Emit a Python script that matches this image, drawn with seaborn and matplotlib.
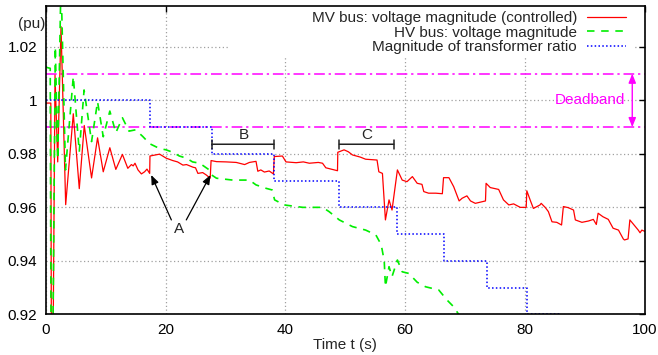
import matplotlib
matplotlib.use("Agg")
import matplotlib.pyplot as plt
import matplotlib.patches as mpatches
import seaborn as sns
import pandas as pd

# MV bus voltage (controlled)
mv_t = [0, 0.85, 0.95, 1.2, 1.55, 2.0, 2.55, 3.33, 4.6, 5.6, 6.43, 7.65, 8.65, 9.6,
        10.7, 11.7, 12.8, 13.7, 14.3, 14.6, 14.9, 15.4, 15.97, 16.5, 16.9, 17.35,
        17.4, 19.0, 20.1, 21.2, 22.0, 22.9, 23.5, 24.6, 25.0, 25.4, 26.2, 26.8,
        27.45, 27.6, 28.5, 30.1, 31.8, 33.2, 34.0, 35.1, 35.4, 35.9, 36.5, 37.3,
        38.0, 38.15, 39.5, 40.1, 41.8, 43.0, 44.0, 45.5, 46.2, 46.75, 48.7, 48.75,
        49.8, 50.5, 51.2, 52.5, 53.4, 55.3, 55.6, 56.2, 56.7, 57.3, 57.8, 58.7,
        59.5, 60.3, 61.2, 62.0, 62.8, 63.1, 63.9, 65.1, 66.2, 66.4, 67.3, 68.1,
        69.0, 69.5, 70.3, 70.9, 71.7, 73.4, 73.5, 74.2, 75.6, 76.4, 77.3, 78.1,
        79.2, 80.2, 80.3, 80.9, 81.4, 82.5, 82.7, 83.4, 83.9, 84.5, 85.3, 86.1,
        86.4, 87.2, 88.1, 88.4, 89.5, 90.6, 91.4, 91.9, 92.2, 93.0, 93.9, 94.7,
        95.6, 96.4, 96.6, 97.2, 97.5, 98.3, 98.9, 99.2, 99.5, 100]
mv_v = [0.999, 0.999, 0.90, 0.90, 1.0095, 0.977, 1.0276, 0.961, 0.995, 0.967, 0.9906,
        0.971, 0.986, 0.9733, 0.9823, 0.9742, 0.9798, 0.9746, 0.976, 0.9755, 0.9765,
        0.974, 0.9725, 0.9733, 0.9743, 0.9727, 0.9792, 0.9799, 0.9784, 0.9775, 0.977,
        0.9758, 0.976, 0.975, 0.9748, 0.9727, 0.973, 0.9721, 0.9709, 0.9775, 0.9771,
        0.977, 0.9768, 0.976, 0.9768, 0.9772, 0.9735, 0.974, 0.9732, 0.9736, 0.9725,
        0.979, 0.9792, 0.977, 0.9767, 0.977, 0.9765, 0.9768, 0.9765, 0.9748, 0.9737,
        0.9806, 0.9815, 0.9808, 0.9796, 0.9788, 0.978, 0.9777, 0.9733, 0.9727, 0.9553,
        0.9628, 0.959, 0.974, 0.9702, 0.9696, 0.9715, 0.969, 0.9686, 0.9659, 0.9653,
        0.9653, 0.9651, 0.9711, 0.9711, 0.9677, 0.9624, 0.9634, 0.9643, 0.9624, 0.9615,
        0.9624, 0.969, 0.9674, 0.9667, 0.9628, 0.9609, 0.9613, 0.960, 0.960, 0.9662,
        0.9625, 0.9596, 0.9609, 0.9615, 0.9599, 0.9584, 0.9546, 0.9544, 0.9534, 0.9603,
        0.9599, 0.959, 0.9553, 0.9544, 0.9549, 0.9555, 0.9536, 0.9578, 0.9565, 0.9555,
        0.9522, 0.9515, 0.9482, 0.9478, 0.9482, 0.9553, 0.9531, 0.9515, 0.9505, 0.9515,
        0.951]

# HV bus voltage
hv_t = [0, 0.75, 0.9, 1.15, 1.6, 2.0, 2.55, 3.3, 4.6, 5.6, 6.4, 7.65, 8.65, 9.6, 10.7,
        11.7, 12.8, 13.9, 15.0, 16.2, 17.35, 19.0, 20.1, 21.2, 22.3, 23.5, 24.5, 25.7,
        27.3, 27.7, 28.5, 31.2, 34.0, 35.1, 36.8, 37.8, 38.2, 39.8, 42.9, 46.2, 47.3,
        49.0, 51.2, 53.4, 55.1, 56.0, 56.5, 56.7, 57.3, 57.8, 58.7, 59.5, 60.6, 62.0,
        63.4, 65.6, 67.0, 68.1, 69.5, 70.0]
hv_v = [1.0124, 1.012, 0.90, 0.90, 1.02, 0.978, 1.045, 0.974, 1.0089, 0.9808, 1.0039,
        0.9846, 0.9995, 0.9864, 0.996, 0.9879, 0.9935, 0.9885, 0.989, 0.9865, 0.9838,
        0.982, 0.9815, 0.9806, 0.9792, 0.9784, 0.977, 0.9765, 0.974, 0.9721, 0.9709,
        0.9702, 0.9702, 0.9684, 0.9671, 0.9665, 0.9628, 0.9609, 0.960, 0.960, 0.9584,
        0.9553, 0.9528, 0.9515, 0.9497, 0.946, 0.940, 0.9303, 0.9378, 0.9341, 0.9403,
        0.9359, 0.9353, 0.932, 0.9303, 0.9291, 0.9253, 0.9228, 0.918, 0.917]

# transformer ratio (tap steps)
tap_t = [0, 17.35, 27.7, 38.15, 48.9, 58.7, 66.4, 73.7, 80.4, 86.0, 100]
tap_v = [1.0, 0.99, 0.98, 0.97, 0.96, 0.95, 0.94, 0.93, 0.92, 0.91, 0.91]

deadband = [0.99, 1.01]
x_ticks = [0, 20, 40, 60, 80, 100]
y_ticks = [0.92, 0.94, 0.96, 0.98, 1.0, 1.02]
y_tick_labels = ["0.92", "0.94", "0.96", "0.98", "1", "1.02"]

mv = pd.DataFrame({"t": mv_t, "v": mv_v})
hv = pd.DataFrame({"t": hv_t, "v": hv_v})
tap = pd.DataFrame({"t": tap_t, "v": tap_v})

sns.set_style("white")
plt.rcParams["font.family"] = ["Liberation Sans", "DejaVu Sans"]
plt.rcParams["font.size"] = 11

fig = plt.figure(figsize=(6.58, 3.55), dpi=100)
ax = fig.add_axes([0.0695, 0.1146, 0.9105, 0.8685])

ax.grid(True, color="#a0a0a0", linestyle=(0, (1, 2)), linewidth=0.9)
ax.set_axisbelow(True)

# white box behind the key (hides the grid there, like gnuplot)
ax.add_patch(mpatches.Rectangle((0.3065, 0.835), 0.676, 0.165, transform=ax.transAxes,
                                facecolor="white", edgecolor="none", zorder=1))

for y in deadband:
    ax.axhline(y, color="#ff00ff", linewidth=1.1, linestyle=(0, (7, 2.5, 1.5, 2.5)), zorder=1.5)

sns.lineplot(data=mv, x="t", y="v", ax=ax, estimator=None, sort=False,
             color="#ff0000", linewidth=0.9, label="MV bus: voltage magnitude (controlled)")
sns.lineplot(data=hv, x="t", y="v", ax=ax, estimator=None, sort=False,
             color="#00ee00", linewidth=1.2, linestyle=(0, (4.5, 4)),
             label="HV bus: voltage magnitude")
sns.lineplot(data=tap, x="t", y="v", ax=ax, estimator=None, sort=False,
             color="#0000ff", linewidth=1.1, linestyle=(0, (1, 1.5)),
             drawstyle="steps-post", label="Magnitude of transformer ratio")

ax.set_xlim(0, 100)
ax.set_ylim(0.92, 1.0353)
ax.set_xticks(x_ticks)
ax.set_xticklabels([str(v) for v in x_ticks])
ax.set_yticks(y_ticks)
ax.set_yticklabels(y_tick_labels)
ax.tick_params(direction="in", length=4, width=1, top=True, right=True,
               labelsize=11, pad=6, colors="black")
for s in ax.spines.values():
    s.set_linewidth(1.2)
    s.set_color("black")

ax.set_xlabel("Time t (s)", fontsize=11, labelpad=1)
ax.set_ylabel("")
ax.text(-2.4, 1.0287, "(pu)", ha="center", va="center", fontsize=11, clip_on=False)

leg = ax.legend(loc="upper right", bbox_to_anchor=(0.9734, 0.993), markerfirst=False,
                frameon=False, fontsize=11, handlelength=2.55, handletextpad=0.65,
                labelspacing=0.03, borderpad=0.2, borderaxespad=0)

# annotations
arrow_kw = dict(arrowstyle="-|>,head_length=0.5,head_width=0.2", color="black",
                lw=0.9, shrinkA=0, shrinkB=0)
ax.annotate("", xy=(17.6, 0.9721), xytext=(20.97, 0.9553), arrowprops=arrow_kw)
ax.annotate("", xy=(27.5, 0.9721), xytext=(23.46, 0.9553), arrowprops=arrow_kw)
ax.text(22.2, 0.9518, "A", ha="center", va="center", fontsize=11)

bar_kw = dict(arrowstyle="|-|,widthA=0.3,widthB=0.3", color="#222222", lw=1.1,
              shrinkA=0, shrinkB=0)
ax.annotate("", xy=(27.7, 0.9836), xytext=(38.1, 0.9836), arrowprops=bar_kw)
ax.text(33.0, 0.987, "B", ha="center", va="center", fontsize=11)
ax.annotate("", xy=(49.0, 0.9836), xytext=(58.1, 0.9836), arrowprops=bar_kw)
ax.text(53.5, 0.987, "C", ha="center", va="center", fontsize=11)

ax.annotate("", xy=(97.9, deadband[1]), xytext=(97.9, deadband[0]),
            arrowprops=dict(arrowstyle="<|-|>,head_length=0.5,head_width=0.2",
                            color="#ff00ff", lw=1.0, shrinkA=0, shrinkB=0))
ax.text(90.9, 1.0, "Deadband", ha="center", va="center", fontsize=11, color="#ff00ff")

fig.savefig("out.png", dpi=100)
